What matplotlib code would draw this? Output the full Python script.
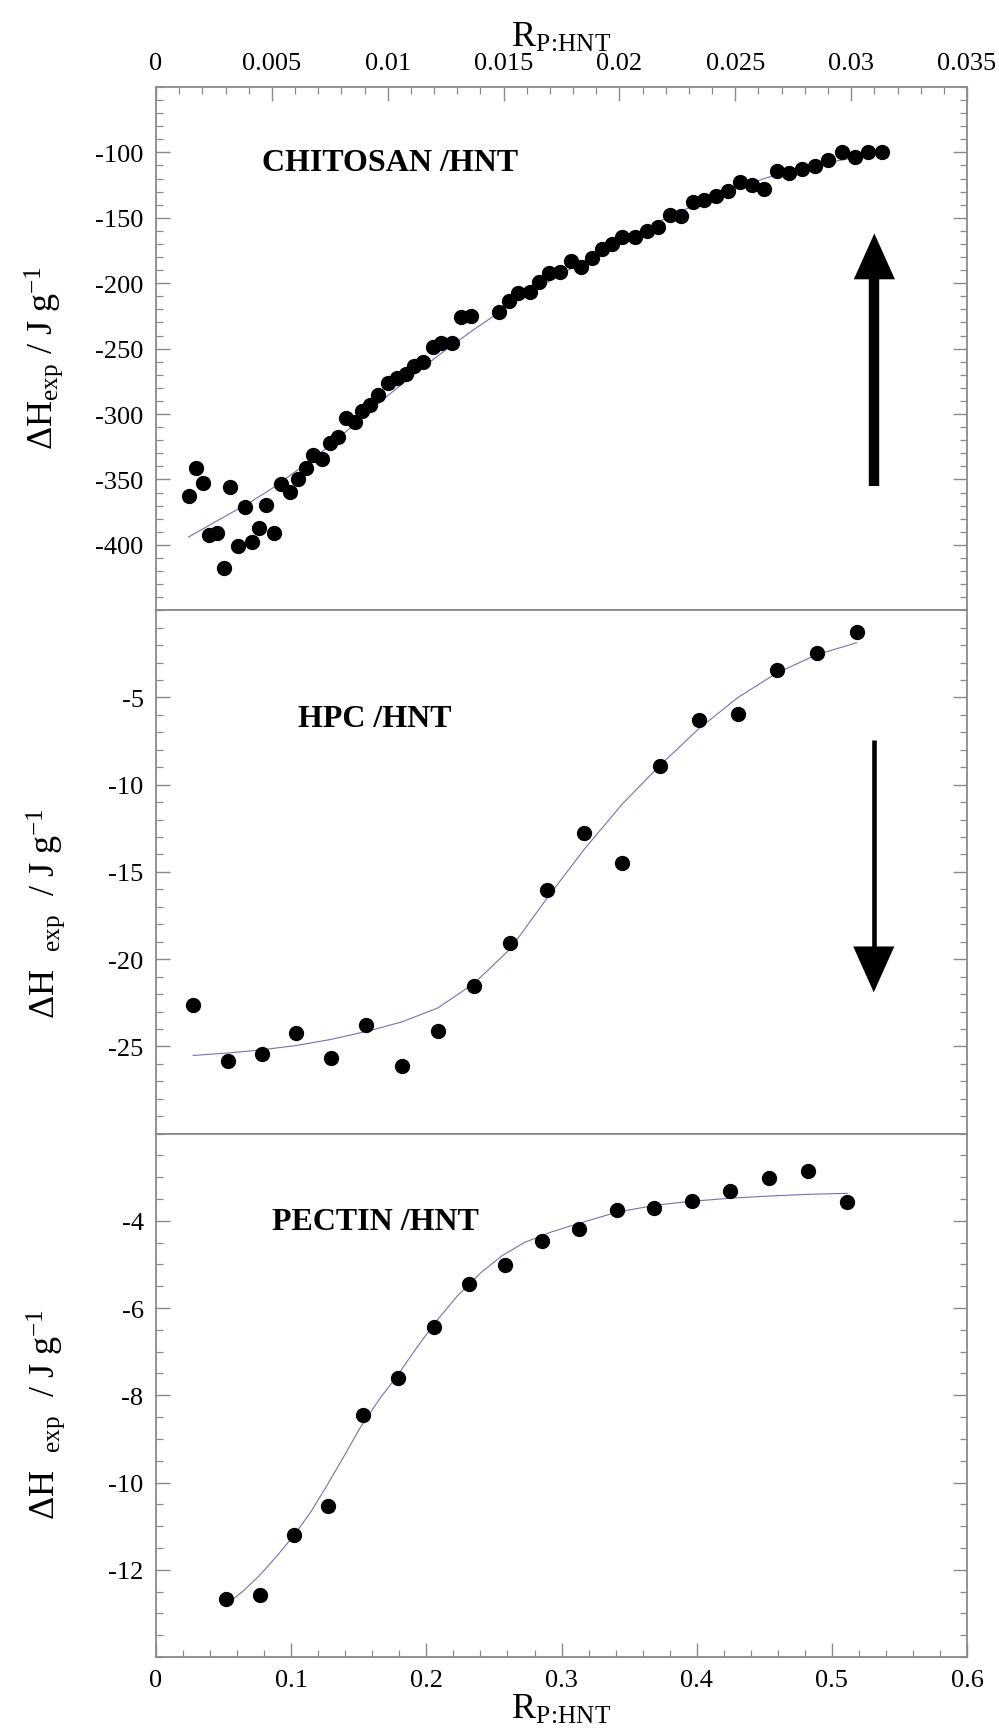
import matplotlib
matplotlib.use('Agg')
import matplotlib.pyplot as plt
from matplotlib.ticker import MultipleLocator, FixedLocator, FuncFormatter

plt.rcParams['font.family'] = ['Liberation Serif', 'DejaVu Serif']
plt.rcParams['mathtext.fontset'] = 'custom'
plt.rcParams['mathtext.rm'] = 'Liberation Serif'
plt.rcParams['mathtext.it'] = 'Liberation Serif:italic'
plt.rcParams['mathtext.bf'] = 'Liberation Serif:bold'
plt.rcParams['axes.unicode_minus'] = False

# ---------------- data ----------------
chitosan_x = [0.00142, 0.00171, 0.00201, 0.0023, 0.00265, 0.00295, 0.00319, 0.00352, 0.00383,
              0.00416, 0.00446, 0.00475, 0.00508, 0.00541, 0.0058, 0.00614, 0.00646, 0.00679,
              0.00715, 0.00751, 0.00787, 0.0082, 0.00859, 0.00888, 0.00924, 0.0096, 0.0100,
              0.01039, 0.01078, 0.01115, 0.01154, 0.01194, 0.0123, 0.01276, 0.01316, 0.0136,
              0.01482, 0.01523, 0.01564, 0.01614, 0.01654, 0.01696, 0.01744, 0.0179, 0.01833,
              0.0188, 0.01924, 0.01967, 0.02012, 0.02067, 0.02118, 0.02168, 0.02218, 0.02266,
              0.02316, 0.02365, 0.02417, 0.0247, 0.0252, 0.02573, 0.02625, 0.02679, 0.02733,
              0.02787, 0.02844, 0.02902, 0.0296, 0.03017, 0.03074, 0.03132]
chitosan_y = [-362.6, -341.6, -352.4, -392.6, -391.0, -417.4, -355.7, -400.8, -370.7,
              -397.5, -387.3, -369.2, -391.0, -353.6, -359.5, -349.8, -341.6, -331.5,
              -334.5, -321.8, -317.5, -303.4, -306.0, -297.6, -293.2, -285.6, -276.6,
              -272.8, -269.5, -263.1, -260.1, -249.1, -245.8, -245.8, -226.2, -225.4,
              -222.3, -213.4, -207.8, -207.0, -199.4, -192.5, -191.2, -183.3, -187.4,
              -181.0, -173.9, -170.0, -165.0, -164.5, -159.9, -156.8, -147.7, -148.4,
              -137.7, -136.2, -133.1, -129.8, -122.9, -125.0, -128.0, -114.0, -116.0,
              -112.7, -110.2, -105.8, -100.0, -103.3, -100.0, -100.0]
chitosan_fit_x = [0.0014, 0.0022, 0.003, 0.004, 0.005, 0.00625, 0.0075, 0.00875, 0.010,
                  0.01125, 0.0125, 0.01375, 0.015, 0.01625, 0.0175, 0.01875, 0.020, 0.02125,
                  0.0225, 0.02375, 0.025, 0.02625, 0.0275, 0.02875, 0.0305]
chitosan_fit_y = [-394, -386, -378, -368, -357, -341, -324, -305, -286, -268, -251, -235,
                  -220, -206, -193, -180, -168, -157, -146, -137, -128, -120, -113.5, -108.5,
                  -103]

hpc_x = [0.0275, 0.053, 0.0781, 0.1036, 0.1295, 0.1554, 0.1817, 0.2084, 0.2351, 0.2622,
         0.2893, 0.3168, 0.3451, 0.3727, 0.4014, 0.4305, 0.4592, 0.4887, 0.5183]
hpc_y = [-22.6, -25.83, -25.42, -24.23, -25.66, -23.78, -26.13, -24.09, -21.53, -19.08,
         -16.05, -12.78, -14.48, -8.94, -6.3, -5.95, -3.44, -2.47, -1.23]
hpc_fit_x = [0.0275, 0.053, 0.078, 0.1036, 0.1295, 0.1554, 0.1817, 0.2084, 0.2351, 0.2622,
             0.2893, 0.3168, 0.345, 0.3727, 0.4014, 0.4305, 0.4592, 0.4887, 0.5183]
hpc_fit_y = [-25.52, -25.38, -25.2, -24.95, -24.6, -24.15, -23.6, -22.8, -21.4, -19.4,
             -16.5, -13.7, -11.1, -8.9, -6.8, -5.0, -3.6, -2.55, -1.86]

pectin_x = [0.0518, 0.0769, 0.1024, 0.1274, 0.1529, 0.1792, 0.2055, 0.2318, 0.2585, 0.2856,
            0.3127, 0.3407, 0.3682, 0.3965, 0.4248, 0.4535, 0.4823, 0.5114]
pectin_y = [-12.68, -12.57, -11.2, -10.53, -8.46, -7.6, -6.44, -5.45, -5.02, -4.47,
            -4.18, -3.75, -3.71, -3.54, -3.32, -3.02, -2.85, -3.56]
pectin_fit_x = [0.0518, 0.064, 0.076, 0.089, 0.1024, 0.115, 0.1266, 0.139, 0.1509, 0.165,
                0.1792, 0.193, 0.2076, 0.223, 0.2399, 0.256, 0.2723, 0.292, 0.3127, 0.341,
                0.37, 0.3937, 0.425, 0.4544, 0.485, 0.5114]
pectin_fit_y = [-12.8, -12.5, -12.15, -11.7, -11.2, -10.65, -10.06, -9.4, -8.75, -8.1,
                -7.52, -6.9, -6.29, -5.72, -5.2, -4.8, -4.5, -4.26, -4.06, -3.8,
                -3.64, -3.56, -3.48, -3.43, -3.39, -3.37]

panel_titles = ['CHITOSAN /HNT', 'HPC /HNT', 'PECTIN /HNT']
top_xticks = [0, 0.005, 0.01, 0.015, 0.02, 0.025, 0.03, 0.035]
bottom_xticks = [0, 0.1, 0.2, 0.3, 0.4, 0.5, 0.6]
chitosan_yticks = [-400, -350, -300, -250, -200, -150, -100]
hpc_yticks = [-25, -20, -15, -10, -5]
pectin_yticks = [-12, -10, -8, -6, -4]

# ---------------- figure ----------------
GRAY = '#8a8a8a'
FIT = '#7272b4'
fig = plt.figure(figsize=(9.99, 17.31), dpi=100)
left, right, top, bottom = 0.1562, 0.968, 0.9492, 0.0422
h = (top - bottom) / 3.0
ax1 = fig.add_axes([left, bottom + 2 * h, right - left, h])
ax2 = fig.add_axes([left, bottom + h, right - left, h])
ax3 = fig.add_axes([left, bottom, right - left, h])

fmt = FuncFormatter(lambda v, p: '{:g}'.format(round(v, 6)))

for ax in (ax1, ax2, ax3):
    for s in ax.spines.values():
        s.set_color(GRAY)
        s.set_linewidth(1.3)
    ax.tick_params(which='both', direction='in', color=GRAY, labelsize=19,
                   left=True, right=True, top=False, bottom=False,
                   labelbottom=False, labeltop=False)
    ax.tick_params(which='major', length=10, width=1.0, pad=9)
    ax.tick_params(which='minor', length=5, width=0.9)

ms = 10
xlab = r'R$_{\rm P\!:\!HNT}$'
# top panel
ax1.plot(chitosan_fit_x, chitosan_fit_y, color=FIT, lw=0.8, zorder=2)
ax1.plot(chitosan_x, chitosan_y, 'o', color='black', ms=ms, zorder=3)
ax1.set_xlim(0, 0.035)
ax1.set_ylim(-450, -50)
ax1.xaxis.set_major_locator(FixedLocator(top_xticks))
ax1.xaxis.set_minor_locator(MultipleLocator(0.001))
ax1.xaxis.set_major_formatter(fmt)
ax1.yaxis.set_major_locator(FixedLocator(chitosan_yticks))
ax1.yaxis.set_minor_locator(MultipleLocator(10))
ax1.yaxis.set_major_formatter(fmt)
ax1.tick_params(axis='x', which='both', top=True, labeltop=True)
ax1.xaxis.set_label_position('top')
ax1.set_xlabel(xlab, fontsize=26, labelpad=5)
ax1.text(0.289, 0.855, panel_titles[0], transform=ax1.transAxes, fontsize=23,
         fontweight='bold', ha='center', va='center')
ax1.plot([0.031, 0.031], [-355, -192], color='black', lw=7.5, solid_capstyle='butt')
ax1.annotate('', xy=(0.031, -162), xytext=(0.031, -300),
             arrowprops=dict(arrowstyle='-|>,head_length=33,head_width=14.8', lw=0,
                             color='black', mutation_scale=1, shrinkA=0, shrinkB=0))

# middle panel
ax2.plot(hpc_fit_x, hpc_fit_y, color=FIT, lw=0.8, zorder=2)
ax2.plot(hpc_x, hpc_y, 'o', color='black', ms=ms, zorder=3)
ax2.set_xlim(0, 0.6)
ax2.set_ylim(-30, 0)
ax2.yaxis.set_major_locator(FixedLocator(hpc_yticks))
ax2.yaxis.set_minor_locator(MultipleLocator(1))
ax2.yaxis.set_major_formatter(fmt)
ax2.set_xticks([])
ax2.text(0.27, 0.793, panel_titles[1], transform=ax2.transAxes, fontsize=23,
         fontweight='bold', ha='center', va='center')
ax2.plot([0.531, 0.531], [-7.46, -19.8], color='black', lw=3.3, solid_capstyle='butt')
ax2.annotate('', xy=(0.531, -21.9), xytext=(0.531, -12),
             arrowprops=dict(arrowstyle='-|>,head_length=33,head_width=14.8', lw=0,
                             color='black', mutation_scale=1, shrinkA=0, shrinkB=0))

# bottom panel
ax3.plot(pectin_fit_x, pectin_fit_y, color=FIT, lw=0.8, zorder=2)
ax3.plot(pectin_x, pectin_y, 'o', color='black', ms=ms, zorder=3)
ax3.set_xlim(0, 0.6)
ax3.set_ylim(-14, -2)
ax3.xaxis.set_major_locator(FixedLocator(bottom_xticks))
ax3.xaxis.set_minor_locator(MultipleLocator(0.02))
ax3.xaxis.set_major_formatter(fmt)
ax3.yaxis.set_major_locator(FixedLocator(pectin_yticks))
ax3.yaxis.set_minor_locator(MultipleLocator(0.5))
ax3.yaxis.set_major_formatter(fmt)
ax3.tick_params(axis='x', which='both', bottom=True, labelbottom=True)
ax3.set_xlabel(xlab, fontsize=26, labelpad=1)
ax3.text(0.27, 0.833, panel_titles[2], transform=ax3.transAxes, fontsize=23,
         fontweight='bold', ha='center', va='center')

ylab_top = 'ΔH$_{\\rm exp}$ / J g$^{-1}$'
ylab_low = 'ΔH  $_{\\rm exp}$  / J g$^{-1}$'
fig.text(0.044, 0.793, ylab_top, rotation=90, ha='center', va='center', fontsize=26)
fig.text(0.046, 0.472, ylab_low, rotation=90, ha='center', va='center', fontsize=26)
fig.text(0.046, 0.183, ylab_low, rotation=90, ha='center', va='center', fontsize=26)

fig.savefig('out.png', dpi=100)
